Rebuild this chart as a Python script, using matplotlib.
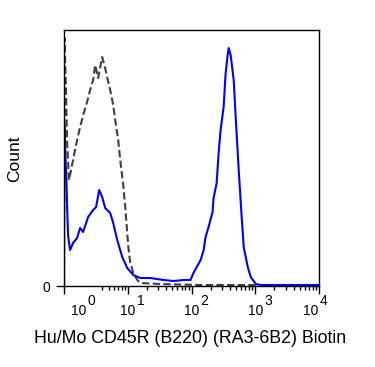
import numpy as np
import matplotlib
matplotlib.use('Agg')
import matplotlib.pyplot as plt
from matplotlib.transforms import offset_copy

plt.rcParams['font.family'] = ['Liberation Sans', 'DejaVu Sans']

# isotype control (dashed grey)
ctrl_x = [1.0, 1.018, 1.037, 1.075, 1.115, 1.199, 1.336, 1.545, 1.786, 2.065, 2.30,
          2.57, 2.86, 3.08, 3.43, 3.97, 4.42, 4.75, 5.30, 5.91, 6.35, 7.08, 7.62,
          8.49, 9.13, 10.2, 10.9, 12.2, 14.1, 15.7, 32.5, 139, 849, 10000]
ctrl_y = [0, 248, 230, 196, 146, 106, 121, 141, 159, 174, 184, 196, 206, 221, 208,
          229, 218, 209, 196, 181, 166, 146, 126, 101, 79, 39, 24, 13, 6, 3, 2, 1,
          1, 0]

# CD45R stained (blue)
stain_x = [1.0, 1.01, 1.03, 1.06, 1.09, 1.13, 1.16, 1.243, 1.386, 1.602, 1.786,
           1.991, 2.39, 2.86, 3.19, 3.56, 3.97, 4.42, 5.30, 5.91, 6.83, 8.19, 9.82,
           12.2, 15.7, 22.6, 36.2, 52.1, 74.8, 96.5, 107, 139, 155, 166, 185, 214,
           222, 248, 266, 286, 319, 343, 369, 383, 411, 459, 493, 550, 612, 659,
           762, 849, 1018, 1222, 10000]
stain_y = [0, 160, 152, 125, 106, 70, 50, 36, 43, 48, 58, 54, 69, 76, 79, 96, 89,
           78, 73, 63, 46, 29, 18, 11, 8, 8, 6, 5, 6, 6, 13, 26, 36, 49, 59, 74,
           88, 103, 133, 156, 179, 213, 231, 238, 231, 206, 169, 116, 69, 39, 19,
           9, 2, 1, 1]

major_ticks = [1, 10, 100, 1000, 10000]
# decade labels: value where the label sits, exponent
label_pos = [1.69, 10, 100, 1000, 7500]
label_exp = ['0', '1', '2', '3', '4']
minor_ticks = [4, 5, 6, 7, 8, 9] + [m * 10 ** d for d in range(1, 4) for m in range(2, 10)]

fig = plt.figure(figsize=(3.75, 3.67), dpi=100)
ax = fig.add_axes([0.1707, 0.2207, 0.68, 0.6975])

ax.plot(ctrl_x, ctrl_y, color='#404040', lw=1.5, dashes=(3.5, 1.6))
ax.plot(stain_x, stain_y, color='#0000ff', lw=1.5)

ax.set_xscale('log')
ax.set_xlim(1, 10000)
ax.set_ylim(0, 256)

ax.set_xticks(major_ticks)
ax.set_xticklabels([''] * len(major_ticks))
ax.set_xticks(minor_ticks, minor=True)
ax.set_xticklabels([], minor=True)
ax.tick_params(axis='x', which='major', direction='out', length=6, width=1)
ax.tick_params(axis='x', which='minor', direction='out', length=3, width=1)

# "10" base centred on the tick, full-size exponent up and to the right
xtr = ax.get_xaxis_transform()
for pos, e in zip(label_pos, label_exp):
    ax.text(pos, 0, '10', transform=offset_copy(xtr, fig=fig, x=0, y=-18, units='dots'),
            ha='center', va='top', fontsize=10)
    ax.text(pos, 0, e, transform=offset_copy(xtr, fig=fig, x=9, y=-8, units='dots'),
            ha='left', va='top', fontsize=10)

ax.set_yticks([0])
ax.set_yticklabels(['0'], fontsize=10)
ax.tick_params(axis='y', direction='out', length=6, width=1, pad=4)

for sp in ax.spines.values():
    sp.set_linewidth(1)

ax.set_xlabel('Hu/Mo CD45R (B220) (RA3-6B2) Biotin', fontsize=12.8)
ax.xaxis.set_label_coords(0.494, -0.172)
ax.set_ylabel('Count', fontsize=12.5)
ax.yaxis.set_label_coords(-0.165, 0.496)

fig.savefig('out.png', dpi=100)
